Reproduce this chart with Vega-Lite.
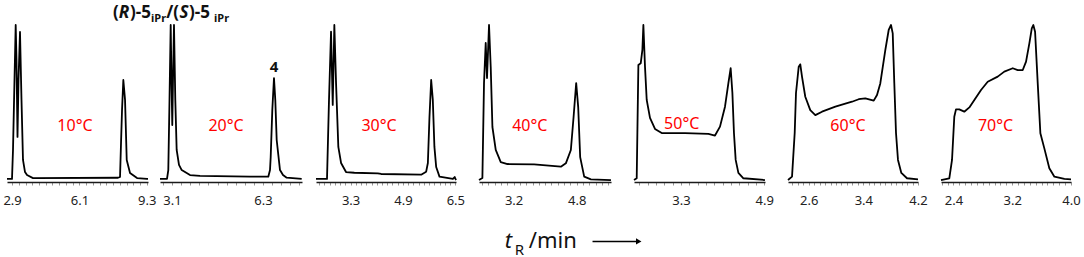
{
  "$schema": "https://vega.github.io/schema/vega-lite/v6.json",
  "padding": {"left": 2, "top": 4, "right": 0, "bottom": 0},
  "background": "white",
  "config": {
    "view": {"stroke": null},
    "font": "Noto Sans",
    "axisX": {
      "title": null, "grid": false, "domainColor": "#1a1a1a", "domainWidth": 1.5,
      "tickColor": "#999999", "tickSize": 3, "tickWidth": 1,
      "labelFont": "Noto Sans", "labelFontSize": 13, "labelColor": "#222222",
      "labelPadding": 9, "labelFlush": false, "labelOverlap": false
    }
  },
  "datasets": {
    "p1": [
      {"t": 2.66, "s": 1.7}, {"t": 2.898, "s": 1.7}, {"t": 2.945, "s": 18.0}, {"t": 3.016, "s": 57.3},
      {"t": 3.073, "s": 88.2}, {"t": 3.111, "s": 68.5}, {"t": 3.159, "s": 25.3}, {"t": 3.207, "s": 57.3},
      {"t": 3.278, "s": 84.3}, {"t": 3.349, "s": 46.1}, {"t": 3.42, "s": 12.4}, {"t": 3.516, "s": 5.6},
      {"t": 3.611, "s": 3.9}, {"t": 3.896, "s": 2.2}, {"t": 7.936, "s": 2.4}, {"t": 8.031, "s": 2.8},
      {"t": 8.078, "s": 21.9}, {"t": 8.126, "s": 40.4}, {"t": 8.188, "s": 57.3}, {"t": 8.269, "s": 46.1},
      {"t": 8.349, "s": 12.4}, {"t": 8.506, "s": 5.1}, {"t": 8.839, "s": 2.2}, {"t": 9.314, "s": 1.7},
      {"t": 9.36, "s": 1.7}
    ],
    "p2": [
      {"t": 2.678, "s": 1.7}, {"t": 2.924, "s": 1.7}, {"t": 2.97, "s": 6.7}, {"t": 3.012, "s": 46.1},
      {"t": 3.054, "s": 88.2}, {"t": 3.082, "s": 57.3}, {"t": 3.11, "s": 32.0}, {"t": 3.135, "s": 57.3},
      {"t": 3.17, "s": 88.2}, {"t": 3.216, "s": 46.1}, {"t": 3.264, "s": 18.0}, {"t": 3.346, "s": 9.6},
      {"t": 3.441, "s": 6.7}, {"t": 3.733, "s": 3.9}, {"t": 4.085, "s": 3.4}, {"t": 5.843, "s": 3.0},
      {"t": 6.486, "s": 3.0}, {"t": 6.546, "s": 6.7}, {"t": 6.57, "s": 14.0}, {"t": 6.627, "s": 40.4},
      {"t": 6.686, "s": 58.4}, {"t": 6.732, "s": 46.1}, {"t": 6.781, "s": 23.6}, {"t": 6.897, "s": 6.7},
      {"t": 7.003, "s": 3.9}, {"t": 7.133, "s": 2.4}, {"t": 7.66, "s": 1.7}
    ],
    "p3": [
      {"t": 2.245, "s": 1.7}, {"t": 2.581, "s": 1.7}, {"t": 2.642, "s": 46.1}, {"t": 2.704, "s": 84.4},
      {"t": 2.756, "s": 43.3}, {"t": 2.805, "s": 88.2}, {"t": 2.857, "s": 55.6}, {"t": 2.927, "s": 19.7},
      {"t": 3.01, "s": 10.7}, {"t": 3.162, "s": 5.6}, {"t": 3.416, "s": 5.2}, {"t": 4.132, "s": 4.9},
      {"t": 4.233, "s": 4.5}, {"t": 5.456, "s": 4.1}, {"t": 5.609, "s": 5.8}, {"t": 5.661, "s": 10.7},
      {"t": 5.71, "s": 36.5}, {"t": 5.762, "s": 57.3}, {"t": 5.812, "s": 46.1}, {"t": 5.861, "s": 19.7},
      {"t": 5.915, "s": 8.4}, {"t": 6.016, "s": 3.0}, {"t": 6.425, "s": 1.7}, {"t": 6.48, "s": 2.8},
      {"t": 6.52, "s": 1.1}
    ],
    "p4": [
      {"t": 2.324, "s": 1.1}, {"t": 2.41, "s": 2.2}, {"t": 2.451, "s": 55.6}, {"t": 2.494, "s": 78.1},
      {"t": 2.527, "s": 58.4}, {"t": 2.578, "s": 88.2}, {"t": 2.621, "s": 64.6}, {"t": 2.664, "s": 30.9},
      {"t": 2.748, "s": 18.0}, {"t": 2.875, "s": 11.2}, {"t": 3.045, "s": 10.1}, {"t": 3.72, "s": 9.9},
      {"t": 4.398, "s": 8.6}, {"t": 4.524, "s": 10.5}, {"t": 4.651, "s": 18.0}, {"t": 4.72, "s": 36.5},
      {"t": 4.786, "s": 55.6}, {"t": 4.837, "s": 42.1}, {"t": 4.887, "s": 14.0}, {"t": 4.989, "s": 3.0},
      {"t": 5.159, "s": 1.5}, {"t": 5.667, "s": 1.1}
    ],
    "p5": [
      {"t": 2.4, "s": 1.1}, {"t": 2.452, "s": 2.1}, {"t": 2.484, "s": 65.7}, {"t": 2.529, "s": 66.7},
      {"t": 2.561, "s": 74.2}, {"t": 2.58, "s": 88.2}, {"t": 2.611, "s": 64.8}, {"t": 2.644, "s": 46.1},
      {"t": 2.707, "s": 36.0}, {"t": 2.803, "s": 29.8}, {"t": 2.932, "s": 27.5}, {"t": 3.379, "s": 27.5},
      {"t": 3.828, "s": 27.0}, {"t": 3.955, "s": 26.1}, {"t": 4.051, "s": 31.1}, {"t": 4.147, "s": 42.3},
      {"t": 4.212, "s": 55.6}, {"t": 4.256, "s": 63.9}, {"t": 4.289, "s": 50.0}, {"t": 4.319, "s": 27.5},
      {"t": 4.352, "s": 12.4}, {"t": 4.404, "s": 5.1}, {"t": 4.5, "s": 2.1}, {"t": 4.914, "s": 1.1}
    ],
    "p6": [
      {"t": 2.297, "s": 1.1}, {"t": 2.356, "s": 3.0}, {"t": 2.395, "s": 27.5}, {"t": 2.414, "s": 50.0},
      {"t": 2.454, "s": 64.8}, {"t": 2.477, "s": 66.1}, {"t": 2.502, "s": 59.2}, {"t": 2.55, "s": 47.9},
      {"t": 2.623, "s": 40.4}, {"t": 2.697, "s": 37.6}, {"t": 2.795, "s": 39.5}, {"t": 2.99, "s": 42.3},
      {"t": 3.234, "s": 45.1}, {"t": 3.332, "s": 46.5}, {"t": 3.429, "s": 47.0}, {"t": 3.552, "s": 45.7},
      {"t": 3.6, "s": 48.9}, {"t": 3.648, "s": 55.4}, {"t": 3.722, "s": 74.2}, {"t": 3.771, "s": 85.4},
      {"t": 3.805, "s": 88.2}, {"t": 3.83, "s": 83.5}, {"t": 3.853, "s": 55.6}, {"t": 3.878, "s": 27.5},
      {"t": 3.907, "s": 12.4}, {"t": 3.956, "s": 5.1}, {"t": 4.039, "s": 2.1}, {"t": 4.2, "s": 1.5}
    ],
    "p7": [
      {"t": 2.23, "s": 1.1}, {"t": 2.343, "s": 2.1}, {"t": 2.38, "s": 12.4}, {"t": 2.411, "s": 36.7},
      {"t": 2.434, "s": 40.8}, {"t": 2.479, "s": 40.8}, {"t": 2.547, "s": 39.5}, {"t": 2.616, "s": 41.9},
      {"t": 2.684, "s": 46.1}, {"t": 2.775, "s": 51.7}, {"t": 2.866, "s": 56.3}, {"t": 3.002, "s": 59.2},
      {"t": 3.092, "s": 62.0}, {"t": 3.207, "s": 63.9}, {"t": 3.275, "s": 62.9}, {"t": 3.343, "s": 62.9},
      {"t": 3.388, "s": 67.6}, {"t": 3.433, "s": 77.9}, {"t": 3.466, "s": 86.3}, {"t": 3.487, "s": 88.2},
      {"t": 3.511, "s": 84.4}, {"t": 3.547, "s": 55.4}, {"t": 3.583, "s": 27.4}, {"t": 3.637, "s": 18.9},
      {"t": 3.705, "s": 7.7}, {"t": 3.774, "s": 3.0}, {"t": 3.91, "s": 1.7}, {"t": 4.0, "s": 1.5}
    ]
  },
  "spacing": 12,
  "hconcat": [
    {
      "bounds": "flush",
      "spacing": 12,
      "hconcat": [
        {
          "width": 141, "height": 178,
          "encoding": {
            "x": {"field": "t", "type": "quantitative", "scale": {"domain": [2.66, 9.36], "nice": false, "zero": false},
              "axis": {"values": [2.9, 3.22, 3.54, 3.86, 4.18, 4.5, 4.82, 5.14, 5.46, 5.78, 6.1, 6.42, 6.74, 7.06, 7.38, 7.7, 8.02, 8.34, 8.66, 8.98, 9.3],
                "labelExpr": "indexof(['2.90','6.10','9.30'], format(datum.value, '.2f')) >= 0 ? format(datum.value, '.1f') : ''"}},
            "y": {"field": "s", "type": "quantitative", "scale": {"domain": [0, 100], "nice": false, "zero": false}, "axis": null}
          },
          "layer": [
            {"data": {"name": "p1"}, "mark": {"type": "line", "color": "black", "strokeWidth": 1.8, "strokeJoin": "round"}},
            {"data": {"values": [{"t": 5.89, "s": 28.6, "label": "10°C"}]},
              "mark": {"type": "text", "fill": "#ff0000", "fontSize": 16, "align": "center", "baseline": "alphabetic"},
              "encoding": {"text": {"field": "label"}}}
          ]
        },
        {
          "width": 142, "height": 178,
          "encoding": {
            "x": {"field": "t", "type": "quantitative", "scale": {"domain": [2.678, 7.671], "nice": false, "zero": false},
              "axis": {"values": [2.78, 3.1, 3.42, 3.74, 4.06, 4.38, 4.7, 5.02, 5.34, 5.66, 5.98, 6.3, 6.62, 6.94, 7.26, 7.58],
                "labelExpr": "indexof(['3.10','6.30'], format(datum.value, '.2f')) >= 0 ? format(datum.value, '.1f') : ''"}},
            "y": {"field": "s", "type": "quantitative", "scale": {"domain": [0, 100], "nice": false, "zero": false}, "axis": null}
          },
          "layer": [
            {"data": {"name": "p2"}, "mark": {"type": "line", "color": "black", "strokeWidth": 1.8, "strokeJoin": "round"}},
            {"data": {"values": [{"t": 5.0, "s": 28.6, "label": "20°C"}]},
              "mark": {"type": "text", "fill": "#ff0000", "fontSize": 16, "align": "center", "baseline": "alphabetic"},
              "encoding": {"text": {"field": "label"}}},
            {"data": {"values": [{"t": 6.69, "s": 62.0, "label": "4"}]},
              "mark": {"type": "text", "fill": "#111111", "fontSize": 15, "fontWeight": "bold", "align": "center", "baseline": "alphabetic"},
              "encoding": {"text": {"field": "label"}}},
            {"data": {"values": [
                {"t": 1.025, "s": 92.1, "label": "("}, {"t": 1.623, "s": 92.1, "label": ")-5"},
                {"t": 2.896, "s": 92.1, "label": "/("}, {"t": 3.698, "s": 92.1, "label": ")-5"}]},
              "mark": {"type": "text", "fill": "#111111", "fontSize": 17, "fontWeight": "bold", "align": "left", "baseline": "alphabetic"},
              "encoding": {"text": {"field": "label"}}},
            {"data": {"values": [{"t": 1.229, "s": 92.1, "label": "R"}, {"t": 3.36, "s": 92.1, "label": "S"}]},
              "mark": {"type": "text", "fill": "#111111", "fontSize": 17, "fontWeight": "bold", "fontStyle": "italic", "align": "left", "baseline": "alphabetic"},
              "encoding": {"text": {"field": "label"}}},
            {"data": {"values": [{"t": 2.362, "s": 90.0, "label": "iPr"}, {"t": 4.577, "s": 90.0, "label": "iPr"}]},
              "mark": {"type": "text", "fill": "#111111", "fontSize": 11, "fontWeight": "bold", "align": "left", "baseline": "alphabetic"},
              "encoding": {"text": {"field": "label"}}}
          ]
        }
      ]
    },
    {
      "bounds": "flush",
      "spacing": 23,
      "hconcat": [
        {
          "width": 140, "height": 178,
          "encoding": {
            "x": {"field": "t", "type": "quantitative", "scale": {"domain": [2.245, 6.52], "nice": false, "zero": false},
              "axis": {"values": [2.34, 2.5, 2.66, 2.82, 2.98, 3.14, 3.3, 3.46, 3.62, 3.78, 3.94, 4.1, 4.26, 4.42, 4.58, 4.74, 4.9, 5.06, 5.22, 5.38, 5.54, 5.7, 5.86, 6.02, 6.18, 6.34, 6.5],
                "labelExpr": "indexof(['3.30','4.90','6.50'], format(datum.value, '.2f')) >= 0 ? format(datum.value, '.1f') : ''"}},
            "y": {"field": "s", "type": "quantitative", "scale": {"domain": [0, 100], "nice": false, "zero": false}, "axis": null}
          },
          "layer": [
            {"data": {"name": "p3"}, "mark": {"type": "line", "color": "black", "strokeWidth": 1.8, "strokeJoin": "round"}},
            {"data": {"values": [{"t": 4.17, "s": 28.6, "label": "30°C"}]},
              "mark": {"type": "text", "fill": "#ff0000", "fontSize": 16, "align": "center", "baseline": "alphabetic"},
              "encoding": {"text": {"field": "label"}}}
          ]
        },
        {
          "width": 132, "height": 178,
          "encoding": {
            "x": {"field": "t", "type": "quantitative", "scale": {"domain": [2.324, 5.668], "nice": false, "zero": false},
              "axis": {"values": [2.4, 2.56, 2.72, 2.88, 3.04, 3.2, 3.36, 3.52, 3.68, 3.84, 4.0, 4.16, 4.32, 4.48, 4.64, 4.8, 4.96, 5.12, 5.28, 5.44, 5.6],
                "labelExpr": "indexof(['3.20','4.80'], format(datum.value, '.2f')) >= 0 ? format(datum.value, '.1f') : ''"}},
            "y": {"field": "s", "type": "quantitative", "scale": {"domain": [0, 100], "nice": false, "zero": false}, "axis": null}
          },
          "layer": [
            {"data": {"name": "p4"}, "mark": {"type": "line", "color": "black", "strokeWidth": 1.8, "strokeJoin": "round"}},
            {"data": {"values": [{"t": 3.61, "s": 28.6, "label": "40°C"}]},
              "mark": {"type": "text", "fill": "#ff0000", "fontSize": 16, "align": "center", "baseline": "alphabetic"},
              "encoding": {"text": {"field": "label"}}},
            {"data": {"values": [{"t": 2.976, "s": -37.1, "label": "t"}]},
              "mark": {"type": "text", "fill": "#111111", "fontSize": 22, "fontStyle": "italic", "align": "left", "baseline": "alphabetic"},
              "encoding": {"text": {"field": "label"}}},
            {"data": {"values": [{"t": 3.23, "s": -41.0, "label": "R"}]},
              "mark": {"type": "text", "fill": "#111111", "fontSize": 15, "align": "left", "baseline": "alphabetic"},
              "encoding": {"text": {"field": "label"}}},
            {"data": {"values": [{"t": 3.585, "s": -37.1, "label": "/min"}]},
              "mark": {"type": "text", "fill": "#111111", "fontSize": 22, "align": "left", "baseline": "alphabetic"},
              "encoding": {"text": {"field": "label"}}},
            {"data": {"values": [{"t": 5.2, "t2": 6.33, "s": -33.4}]},
              "mark": {"type": "rule", "color": "black", "strokeWidth": 1.5},
              "encoding": {"x2": {"field": "t2"}}},
            {"data": {"values": [{"t": 6.37, "s": -33.4}]},
              "mark": {"type": "point", "shape": "triangle-right", "filled": true, "color": "black", "size": 40, "opacity": 1}}
          ]
        },
        {
          "width": 131, "height": 178,
          "encoding": {
            "x": {"field": "t", "type": "quantitative", "scale": {"domain": [2.4, 4.915], "nice": false, "zero": false},
              "axis": {"values": [2.5, 2.66, 2.82, 2.98, 3.14, 3.3, 3.46, 3.62, 3.78, 3.94, 4.1, 4.26, 4.42, 4.58, 4.74, 4.9],
                "labelExpr": "indexof(['3.30','4.90'], format(datum.value, '.2f')) >= 0 ? format(datum.value, '.1f') : ''"}},
            "y": {"field": "s", "type": "quantitative", "scale": {"domain": [0, 100], "nice": false, "zero": false}, "axis": null}
          },
          "layer": [
            {"data": {"name": "p5"}, "mark": {"type": "line", "color": "black", "strokeWidth": 1.8, "strokeJoin": "round"}},
            {"data": {"values": [{"t": 3.316, "s": 29.6, "label": "50°C"}]},
              "mark": {"type": "text", "fill": "#ff0000", "fontSize": 16, "align": "center", "baseline": "alphabetic"},
              "encoding": {"text": {"field": "label"}}}
          ]
        },
        {
          "width": 130, "height": 178,
          "encoding": {
            "x": {"field": "t", "type": "quantitative", "scale": {"domain": [2.297, 4.2], "nice": false, "zero": false},
              "axis": {"values": [2.36, 2.44, 2.52, 2.6, 2.68, 2.76, 2.84, 2.92, 3.0, 3.08, 3.16, 3.24, 3.32, 3.4, 3.48, 3.56, 3.64, 3.72, 3.8, 3.88, 3.96, 4.04, 4.12, 4.2],
                "labelExpr": "indexof(['2.60','3.40','4.20'], format(datum.value, '.2f')) >= 0 ? format(datum.value, '.1f') : ''"}},
            "y": {"field": "s", "type": "quantitative", "scale": {"domain": [0, 100], "nice": false, "zero": false}, "axis": null}
          },
          "layer": [
            {"data": {"name": "p6"}, "mark": {"type": "line", "color": "black", "strokeWidth": 1.8, "strokeJoin": "round"}},
            {"data": {"values": [{"t": 3.175, "s": 28.6, "label": "60°C"}]},
              "mark": {"type": "text", "fill": "#ff0000", "fontSize": 16, "align": "center", "baseline": "alphabetic"},
              "encoding": {"text": {"field": "label"}}}
          ]
        },
        {
          "width": 130, "height": 178,
          "encoding": {
            "x": {"field": "t", "type": "quantitative", "scale": {"domain": [2.23, 4.0], "nice": false, "zero": false},
              "axis": {"values": [2.24, 2.32, 2.4, 2.48, 2.56, 2.64, 2.72, 2.8, 2.88, 2.96, 3.04, 3.12, 3.2, 3.28, 3.36, 3.44, 3.52, 3.6, 3.68, 3.76, 3.84, 3.92, 4.0],
                "labelExpr": "indexof(['2.40','3.20','4.00'], format(datum.value, '.2f')) >= 0 ? format(datum.value, '.1f') : ''"}},
            "y": {"field": "s", "type": "quantitative", "scale": {"domain": [0, 100], "nice": false, "zero": false}, "axis": null}
          },
          "layer": [
            {"data": {"name": "p7"}, "mark": {"type": "line", "color": "black", "strokeWidth": 1.8, "strokeJoin": "round"}},
            {"data": {"values": [{"t": 2.973, "s": 28.6, "label": "70°C"}]},
              "mark": {"type": "text", "fill": "#ff0000", "fontSize": 16, "align": "center", "baseline": "alphabetic"},
              "encoding": {"text": {"field": "label"}}}
          ]
        }
      ]
    }
  ]
}
